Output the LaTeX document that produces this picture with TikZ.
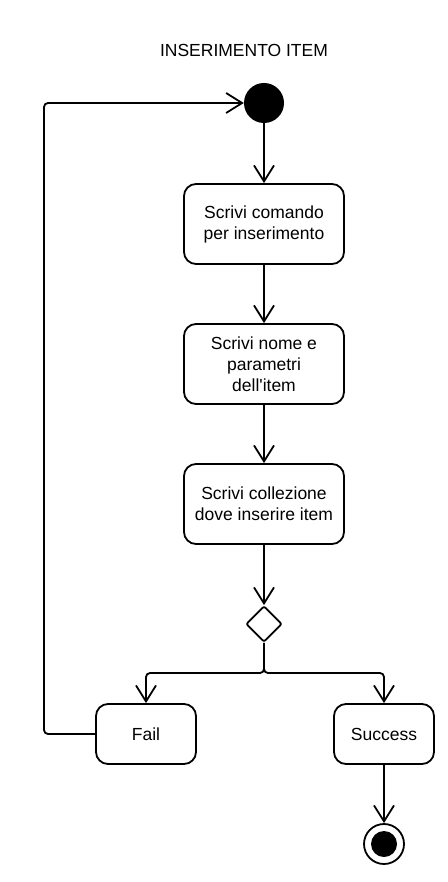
\documentclass[tikz,border=0pt]{standalone}
\usepackage{fontspec}
\setmainfont{Liberation Sans}
\usetikzlibrary{arrows.meta,shapes.geometric}

\tikzset{
  flow/.style={draw, line width=1.8pt, -{Straight Barb[length=16pt,width=20pt,line width=1.8pt]}},
  activity/.style={draw, line width=1.8pt, rounded corners=12pt, minimum width=160pt, minimum height=80pt, align=center, font=\fontsize{17.5}{21}\selectfont},
  smallact/.style={activity, minimum width=100pt, minimum height=60pt}
}

\begin{document}
\begin{tikzpicture}[x=1pt,y=-1pt]
    \useasboundingbox (0,0) rectangle (447,882);
    \node [font=\fontsize{17.5}{21}\selectfont] (title) at (244,50) {INSERIMENTO ITEM};
    \node [circle, fill=black, minimum size=40pt, inner sep=0pt] (start) at (264,103) {};
    \node [activity] (cmd) at (264,224) {Scrivi comando\\per inserimento};
    \node [activity] (name) at (264,364) {Scrivi nome e\\parametri\\dell\textquotesingle item};
    \node [activity] (coll) at (264,504) {Scrivi collezione\\dove inserire item};
    \node [diamond, draw, line width=1.8pt, minimum size=36pt, inner sep=0pt, rounded corners=2pt] (dec) at (264,624) {};
    \node [smallact] (fail) at (146,734) {Fail};
    \node [smallact] (succ) at (384,734) {Success};
    \node [circle, draw, line width=1.8pt, fill=white, minimum size=40pt, inner sep=0pt] (stop) at (384,844) {};
    \node [circle, fill=black, minimum size=26pt, inner sep=0pt] at (stop) {};
    \coordinate (split) at (264,673);
    \coordinate (back) at (44,734);
    \draw [flow] (start) -- (cmd);
    \draw [flow] (cmd) -- (name);
    \draw [flow] (name) -- (coll);
    \draw [flow] (coll) -- (dec);
    \draw [flow, rounded corners=4pt] (dec.south) -- (split) -| (fail.north);
    \draw [flow, rounded corners=4pt] (dec.south) -- (split) -| (succ.north);
    \draw [flow] (succ) -- (stop);
    \draw [flow, rounded corners=4pt] (fail.west) -- (back) |- (start.west);
\end{tikzpicture}
\end{document}
